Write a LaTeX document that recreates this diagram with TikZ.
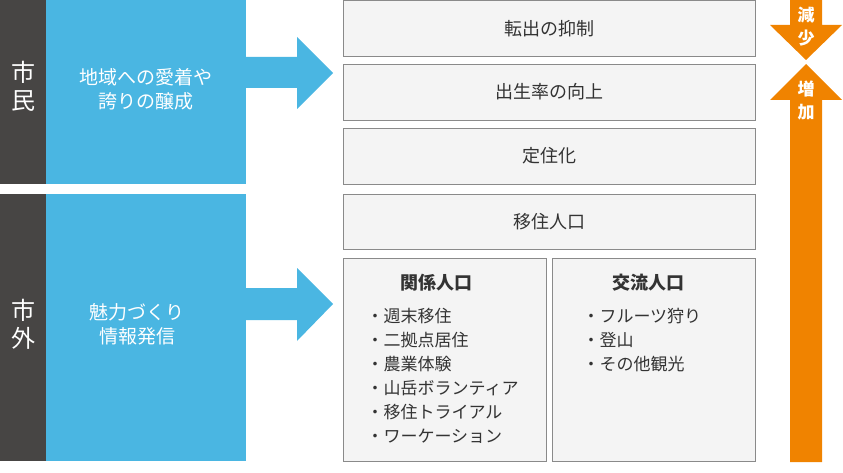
\documentclass[tikz,border=0pt]{standalone}
\usepackage{fontspec}
\setmainfont{Noto Sans CJK JP}
\definecolor{darkbar}{HTML}{474544}
\definecolor{bluebox}{HTML}{4AB6E2}
\definecolor{orangec}{HTML}{F08300}
\definecolor{boxfill}{HTML}{F4F4F4}
\definecolor{boxline}{HTML}{8A8A8A}
\definecolor{txt}{HTML}{333333}
\tikzset{
  bar/.style={fill=darkbar, draw=none},
  blue/.style={fill=bluebox, draw=none},
  gbox/.style={fill=boxfill, draw=boxline, line width=0.8pt},
  btext/.style={text=txt, font=\fontsize{18}{21}\selectfont},
  wlabel/.style={text=white, font=\fontsize{24}{28}\selectfont, align=center},
  wblue/.style={text=white, font=\fontsize{19}{24}\selectfont, align=center},
  otext/.style={text=white, font=\fontsize{17}{23}\selectfont\bfseries, align=center},
  htext/.style={text=txt, font=\fontsize{18}{21}\selectfont\bfseries},
  listtext/.style={text=txt, font=\fontsize{17}{24}\selectfont, align=left, anchor=base west},
}
\begin{document}
\begin{tikzpicture}[x=1pt,y=-1pt]
\useasboundingbox (0,0) rectangle (843,473);
% left bars
\fill[bar] (0,0) rectangle (46,184);
\fill[bar] (0,194) rectangle (46,461);
\node[wlabel] (lab1) at (23,86) {市\\民};
\node[wlabel] (lab2) at (23,324) {市\\外};
% blue boxes
\fill[blue] (46,0) rectangle (246,184);
\fill[blue] (46,194) rectangle (246,461);
\node[wblue] (b1) at (146,89) {地域への愛着や\\誇りの醸成};
\node[wblue] (b2) at (137,324) {魅力づくり\\情報発信};
% blue arrows
\fill[blue] (245,57) -- (297,57) -- (297,37) -- (333,73) -- (297,109) -- (297,88) -- (245,88) -- cycle;
\fill[blue] (245,288) -- (297,288) -- (297,268) -- (333,304) -- (297,341) -- (297,320) -- (245,320) -- cycle;
% grey boxes
\draw[gbox] (343.5,0.5) rectangle (755,56) node[midway,btext] (t1) {転出の抑制};
\draw[gbox] (343.5,64) rectangle (755,120) node[midway,btext] (t2) {出生率の向上};
\draw[gbox] (343.5,128) rectangle (755,184) node[midway,btext] (t3) {定住化};
\draw[gbox] (343.5,194) rectangle (755,249) node[midway,btext] (t4) {移住人口};
\draw[gbox] (343.5,258.5) rectangle (546,461) ;
\draw[gbox] (552,258.5) rectangle (755,461) ;
\node[htext] (h1) at (436,283) {関係人口};
\node[htext] (h2) at (648,283) {交流人口};
\node[listtext] (l1) at (363,442.5) {・週末移住\\・二拠点居住\\・農業体験\\・山岳ボランティア\\・移住トライアル\\・ワーケーション};
\node[listtext] (l2) at (579,370.5) {・フルーツ狩り\\・登山\\・その他観光};
% orange arrows
\fill[orangec] (790,0) -- (822,0) -- (822,25) -- (842,25) -- (806,60) -- (770,25) -- (790,25) -- cycle;
\fill[orangec] (806,64) -- (842,100) -- (822,100) -- (822,462) -- (790,462) -- (790,100) -- (770,100) -- cycle;
\node[otext] (o1) at (806,27) {減\\少};
\node[otext] (o2) at (806,100) {増\\加};
\end{tikzpicture}
\end{document}
